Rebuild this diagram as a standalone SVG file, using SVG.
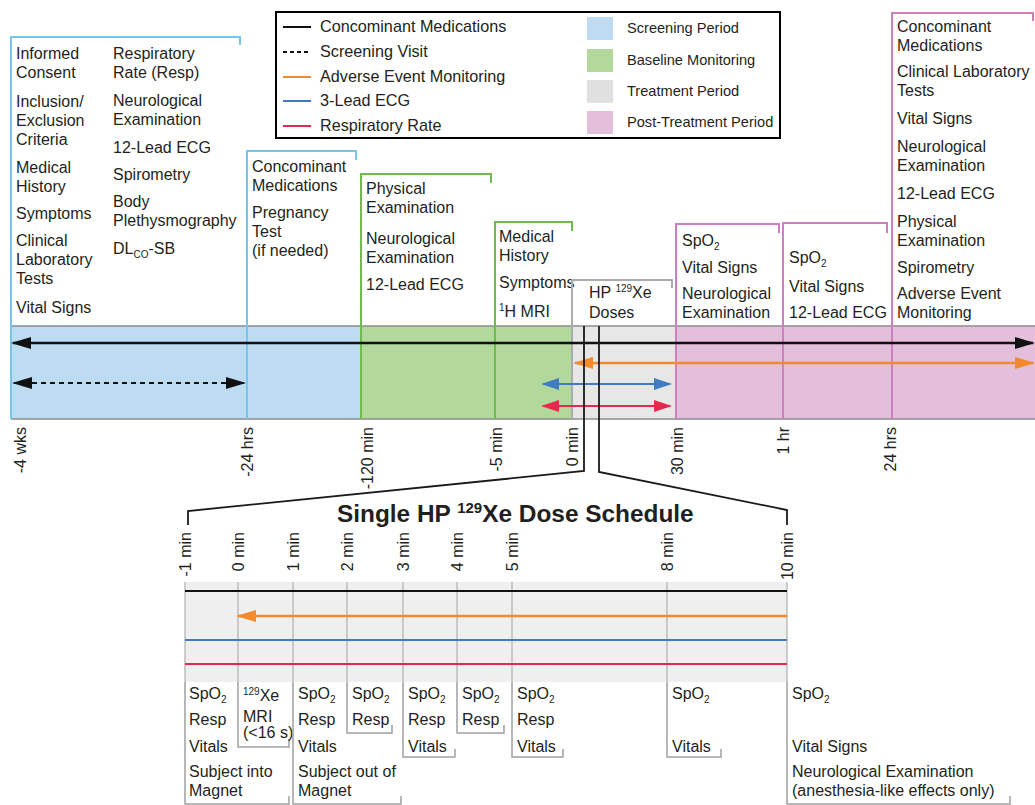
<svg xmlns="http://www.w3.org/2000/svg" width="1035" height="805" viewBox="0 0 1035 805">
<style>
text{font-family:"Liberation Sans",Arial,sans-serif;font-size:16px;fill:#231f20}
.lg{font-size:16.2px}
.lg2{font-size:14.6px}
.sub{font-size:10px}
.rot{text-anchor:end}
.bl{fill:none;stroke:#74c6ea;stroke-width:2}
.gr{fill:none;stroke:#6dbd4b;stroke-width:2}
.gy{fill:none;stroke:#ababab;stroke-width:2}
.pk{fill:none;stroke:#cc80c0;stroke-width:2}
.bx{fill:none;stroke:#a0a0a0;stroke-width:1.5}
.grid{stroke:#bdbdbd;stroke-width:1.5}
.dose{fill:none;stroke:#1a1a1a;stroke-width:1.8}
</style>
<defs>
<marker id="ak" markerUnits="userSpaceOnUse" markerWidth="20" markerHeight="12" refX="18" refY="6" orient="auto-start-reverse" viewBox="0 0 20 12"><path d="M0,0L20,6L0,12z" fill="#111"/></marker>
<marker id="ao" markerUnits="userSpaceOnUse" markerWidth="20" markerHeight="12" refX="18" refY="6" orient="auto-start-reverse" viewBox="0 0 20 12"><path d="M0,0L20,6L0,12z" fill="#f08a2c"/></marker>
<marker id="ab" markerUnits="userSpaceOnUse" markerWidth="18" markerHeight="12" refX="16" refY="6" orient="auto-start-reverse" viewBox="0 0 18 12"><path d="M0,0L18,6L0,12z" fill="#3f7cc4"/></marker>
<marker id="ar" markerUnits="userSpaceOnUse" markerWidth="18" markerHeight="12" refX="16" refY="6" orient="auto-start-reverse" viewBox="0 0 18 12"><path d="M0,0L18,6L0,12z" fill="#e8294f"/></marker>
</defs>

<!-- timeline band -->
<g id="band">
<rect x="11" y="326" width="350" height="93" fill="#bddcf1"/>
<rect x="361" y="326" width="211" height="93" fill="#b3d89c"/>
<rect x="572" y="326" width="104" height="93" fill="#e7e7e7"/>
<rect x="676" y="326" width="359" height="93" fill="#e3bfdc"/>
<line x1="11" y1="326" x2="1035" y2="326" stroke="#8c8c8c" stroke-width="1.5"/>
<line x1="11" y1="419" x2="1035" y2="419" stroke="#8c8c8c" stroke-width="1.5"/>
</g>

<!-- legend -->
<g id="legend">
<rect x="276" y="12" width="504" height="126" fill="#fff" stroke="#000" stroke-width="2"/>
<line x1="283" y1="27" x2="311" y2="27" stroke="#111" stroke-width="2"/>
<line x1="283" y1="52" x2="311" y2="52" stroke="#111" stroke-width="2" stroke-dasharray="4 3"/>
<line x1="283" y1="77" x2="311" y2="77" stroke="#f08a2c" stroke-width="2"/>
<line x1="283" y1="101" x2="311" y2="101" stroke="#3f7cc4" stroke-width="2"/>
<line x1="283" y1="126" x2="311" y2="126" stroke="#e8294f" stroke-width="2"/>
<text class="lg" x="320" y="32">Concominant Medications</text>
<text class="lg" x="320" y="57">Screening Visit</text>
<text class="lg" x="320" y="82">Adverse Event Monitoring</text>
<text class="lg" x="320" y="106">3-Lead ECG</text>
<text class="lg" x="320" y="131">Respiratory Rate</text>
<rect x="587" y="17" width="26" height="23" fill="#bddcf1"/>
<rect x="587" y="49" width="26" height="23" fill="#b3d89c"/>
<rect x="587" y="80" width="26" height="23" fill="#e0e0e0"/>
<rect x="587" y="111" width="26" height="23" fill="#e3bfdc"/>
<text class="lg2" x="627" y="33">Screening Period</text>
<text class="lg2" x="627" y="65">Baseline Monitoring</text>
<text class="lg2" x="627" y="96">Treatment Period</text>
<text class="lg2" x="627" y="127">Post-Treatment Period</text>
</g>

<!-- top event boxes -->
<g id="screening-visit">
<path class="bl" d="M11,419V37H240V45"/>
<text x="16" y="59">Informed</text>
<text x="16" y="78">Consent</text>
<text x="16" y="107">Inclusion/</text>
<text x="16" y="126">Exclusion</text>
<text x="16" y="145">Criteria</text>
<text x="16" y="173">Medical</text>
<text x="16" y="192">History</text>
<text x="16" y="219">Symptoms</text>
<text x="16" y="246">Clinical</text>
<text x="16" y="265">Laboratory</text>
<text x="16" y="284">Tests</text>
<text x="16" y="313">Vital Signs</text>
<text x="113" y="59">Respiratory</text>
<text x="113" y="78">Rate (Resp)</text>
<text x="113" y="106">Neurological</text>
<text x="113" y="125">Examination</text>
<text x="113" y="153">12-Lead ECG</text>
<text x="113" y="180">Spirometry</text>
<text x="113" y="207">Body</text>
<text x="113" y="226">Plethysmography</text>
<text x="113" y="254">DL<tspan class="sub" dy="4">CO</tspan><tspan dy="-4">-SB</tspan></text>
</g>
<g id="minus24h">
<path class="bl" d="M247,419V151H356V160"/>
<text x="252" y="172">Concominant</text>
<text x="252" y="191">Medications</text>
<text x="252" y="218">Pregnancy</text>
<text x="252" y="237">Test</text>
<text x="252" y="256">(if needed)</text>
</g>
<g id="minus120">
<path class="gr" d="M361,419V174H491V183"/>
<text x="366" y="194">Physical</text>
<text x="366" y="213">Examination</text>
<text x="366" y="244">Neurological</text>
<text x="366" y="263">Examination</text>
<text x="366" y="290">12-Lead ECG</text>
</g>
<g id="minus5">
<path class="gr" d="M495,419V222H572V231"/>
<text x="499" y="242">Medical</text>
<text x="499" y="261">History</text>
<text x="499" y="288">Symptoms</text>
<text x="499" y="317"><tspan class="sub" dy="-6">1</tspan><tspan dy="6">H MRI</tspan></text>
</g>
<g id="doses">
<path class="gy" d="M572,419V280H672V288"/>
<text x="589" y="298">HP <tspan class="sub" dy="-6">129</tspan><tspan dy="6">Xe</tspan></text>
<text x="589" y="318">Doses</text>
</g>
<g id="plus30">
<path class="pk" d="M676,419V224H779V233"/>
<text x="682" y="246">SpO<tspan class="sub" dy="4">2</tspan></text>
<text x="682" y="273">Vital Signs</text>
<text x="682" y="299">Neurological</text>
<text x="682" y="318">Examination</text>
</g>
<g id="plus1h">
<path class="pk" d="M783,419V223H887V233"/>
<text x="789" y="263">SpO<tspan class="sub" dy="4">2</tspan></text>
<text x="789" y="292">Vital Signs</text>
<text x="789" y="318">12-Lead ECG</text>
</g>
<g id="plus24h">
<path class="pk" d="M892,419V13H1033V21"/>
<text x="897" y="32">Concominant</text>
<text x="897" y="51">Medications</text>
<text x="897" y="77">Clinical Laboratory</text>
<text x="897" y="96">Tests</text>
<text x="897" y="124">Vital Signs</text>
<text x="897" y="152">Neurological</text>
<text x="897" y="171">Examination</text>
<text x="897" y="199">12-Lead ECG</text>
<text x="897" y="227">Physical</text>
<text x="897" y="246">Examination</text>
<text x="897" y="273">Spirometry</text>
<text x="897" y="299">Adverse Event</text>
<text x="897" y="318">Monitoring</text>
</g>

<!-- timeline labels -->
<g id="time-labels">
<text class="rot" transform="translate(26,427) rotate(-90)">-4 wks</text>
<text class="rot" transform="translate(253,427) rotate(-90)">-24 hrs</text>
<text class="rot" transform="translate(373,427) rotate(-90)">-120 min</text>
<text class="rot" transform="translate(502,427) rotate(-90)">-5 min</text>
<text class="rot" transform="translate(578,427) rotate(-90)">0 min</text>
<text class="rot" transform="translate(683,427) rotate(-90)">30 min</text>
<text class="rot" transform="translate(789,427) rotate(-90)">1 hr</text>
<text class="rot" transform="translate(896,427) rotate(-90)">24 hrs</text>
</g>

<!-- connectors -->
<g id="connectors">
<line x1="13" y1="343" x2="1033" y2="343" stroke="#111" stroke-width="2.5" marker-start="url(#ak)" marker-end="url(#ak)"/>
<line x1="14" y1="383" x2="244" y2="383" stroke="#111" stroke-width="2" stroke-dasharray="5 4" marker-start="url(#ak)" marker-end="url(#ak)"/>
<line x1="575" y1="363" x2="1033" y2="363" stroke="#f08a2c" stroke-width="2.5" marker-start="url(#ao)" marker-end="url(#ao)"/>
<line x1="543" y1="384" x2="670" y2="384" stroke="#3f7cc4" stroke-width="2" marker-start="url(#ab)" marker-end="url(#ab)"/>
<line x1="543" y1="406" x2="670" y2="406" stroke="#e8294f" stroke-width="2" marker-start="url(#ar)" marker-end="url(#ar)"/>
<polyline class="dose" points="584,326 584,471 188,511 188,525"/>
<polyline class="dose" points="599,326 599,472 787,510 787,525"/>
</g>

<!-- single dose schedule -->
<g id="schedule">
<text x="337" y="522" font-weight="bold" style="font-size:24.4px">Single HP <tspan style="font-size:15px" dy="-9">129</tspan><tspan dy="9">Xe Dose Schedule</tspan></text>
<text class="rot" transform="translate(191,532) rotate(-90)">-1 min</text>
<text class="rot" transform="translate(244,532) rotate(-90)">0 min</text>
<text class="rot" transform="translate(299,532) rotate(-90)">1 min</text>
<text class="rot" transform="translate(353,532) rotate(-90)">2 min</text>
<text class="rot" transform="translate(409,532) rotate(-90)">3 min</text>
<text class="rot" transform="translate(463,532) rotate(-90)">4 min</text>
<text class="rot" transform="translate(518,532) rotate(-90)">5 min</text>
<text class="rot" transform="translate(673,532) rotate(-90)">8 min</text>
<text class="rot" transform="translate(793,532) rotate(-90)">10 min</text>
<rect x="185" y="582" width="602" height="100" fill="#efefef"/>
<line class="grid" x1="185" y1="582" x2="185" y2="682"/>
<line class="grid" x1="238" y1="582" x2="238" y2="682"/>
<line class="grid" x1="293" y1="582" x2="293" y2="682"/>
<line class="grid" x1="347" y1="582" x2="347" y2="682"/>
<line class="grid" x1="403" y1="582" x2="403" y2="682"/>
<line class="grid" x1="457" y1="582" x2="457" y2="682"/>
<line class="grid" x1="512" y1="582" x2="512" y2="682"/>
<line class="grid" x1="667" y1="582" x2="667" y2="682"/>
<line class="grid" x1="787" y1="582" x2="787" y2="682"/>
<line x1="185" y1="591" x2="787" y2="591" stroke="#111" stroke-width="2"/>
<line x1="787" y1="616" x2="238" y2="616" stroke="#f08a2c" stroke-width="2.5" marker-end="url(#ao)"/>
<line x1="185" y1="640" x2="787" y2="640" stroke="#3f7cc4" stroke-width="2"/>
<line x1="185" y1="664" x2="787" y2="664" stroke="#e8294f" stroke-width="2"/>
</g>

<g id="col-m1">
<path class="bx" d="M185,682V804H289V796"/>
<text x="189" y="699">SpO<tspan class="sub" dy="4">2</tspan></text>
<text x="189" y="725">Resp</text>
<text x="189" y="752">Vitals</text>
<text x="189" y="777">Subject into</text>
<text x="189" y="796">Magnet</text>
</g>
<g id="col-0">
<path class="bx" d="M238,682V747H289V739"/>
<text x="243" y="701"><tspan class="sub" dy="-6">129</tspan><tspan dy="6">Xe</tspan></text>
<text x="243" y="722">MRI</text>
<text x="243" y="738">(&lt;16 s)</text>
</g>
<g id="col-1">
<path class="bx" d="M293,682V804H401V796"/>
<text x="298" y="699">SpO<tspan class="sub" dy="4">2</tspan></text>
<text x="298" y="725">Resp</text>
<text x="298" y="752">Vitals</text>
<text x="298" y="777">Subject out of</text>
<text x="298" y="796">Magnet</text>
</g>
<g id="col-2">
<path class="bx" d="M347,682V733H392V725"/>
<text x="352" y="699">SpO<tspan class="sub" dy="4">2</tspan></text>
<text x="352" y="725">Resp</text>
</g>
<g id="col-3">
<path class="bx" d="M403,682V757H455V749"/>
<text x="408" y="699">SpO<tspan class="sub" dy="4">2</tspan></text>
<text x="408" y="725">Resp</text>
<text x="408" y="752">Vitals</text>
</g>
<g id="col-4">
<path class="bx" d="M457,682V733H504V725"/>
<text x="462" y="699">SpO<tspan class="sub" dy="4">2</tspan></text>
<text x="462" y="725">Resp</text>
</g>
<g id="col-5">
<path class="bx" d="M512,682V757H563V749"/>
<text x="517" y="699">SpO<tspan class="sub" dy="4">2</tspan></text>
<text x="517" y="725">Resp</text>
<text x="517" y="752">Vitals</text>
</g>
<g id="col-8">
<path class="bx" d="M667,682V757H721V749"/>
<text x="672" y="699">SpO<tspan class="sub" dy="4">2</tspan></text>
<text x="672" y="752">Vitals</text>
</g>
<g id="col-10">
<path class="bx" d="M787,682V804H1010V796"/>
<text x="792" y="699">SpO<tspan class="sub" dy="4">2</tspan></text>
<text x="792" y="752">Vital Signs</text>
<text x="792" y="777">Neurological Examination</text>
<text x="792" y="796">(anesthesia-like effects only)</text>
</g>
</svg>
